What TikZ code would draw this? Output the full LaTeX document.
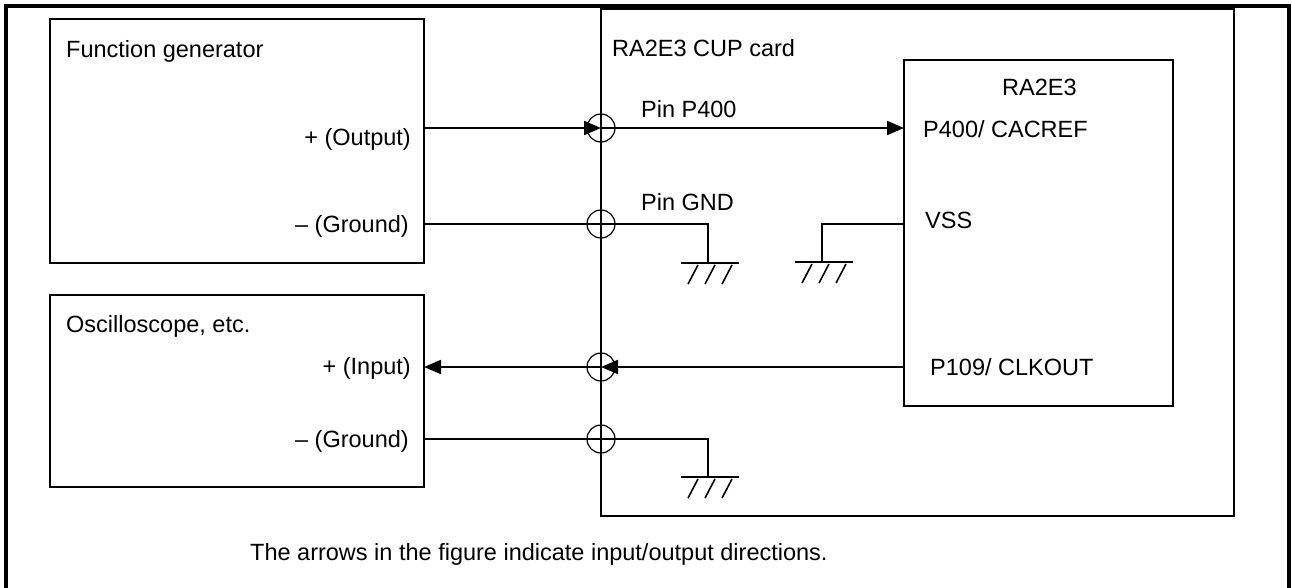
\documentclass[tikz,border=0pt]{standalone}
\usepackage{fontspec}
\setmainfont{Liberation Sans}
\usetikzlibrary{arrows.meta}
\begin{document}
\begin{tikzpicture}[x=1pt,y=-1pt,
  box/.style={draw, line width=1.6pt, inner sep=0pt, outer sep=0pt, anchor=north west},
  wire/.style={line width=2pt},
  thinw/.style={line width=1.6pt},
  pinc/.style={draw, circle, line width=1.2pt, minimum size=28pt, inner sep=0pt, outer sep=0pt},
  tip/.style={-{Triangle[length=17pt,width=14pt]}},
  lbl/.style={inner sep=0pt, font=\fontsize{23.5}{28}\selectfont},
  gnd/.pic={\draw[thinw] (-27,0) -- (31,0);
            \foreach \o in {-10,7,24} \draw[thinw] (\o,2) -- ++(-10,19);}
]
\useasboundingbox (0,0) rectangle (1292,587);
\fill[white] (0,0) rectangle (1292,587);
% outer frame
\draw[line width=3.5pt] (6,6) rectangle (1289,620);

% boxes
\node[box, minimum width=374pt, minimum height=244pt] (fg) at (50,19) {};
\node[box, minimum width=374pt, minimum height=192pt] (osc) at (50,295) {};
\node[box, minimum width=633pt, minimum height=507pt] (card) at (601,9) {};
\node[box, minimum width=269pt, minimum height=346pt] (ra) at (904,60) {};

% pins
\node[pinc] (p1) at (601,128) {};
\node[pinc] (p2) at (601,224) {};
\node[pinc] (p3) at (601,367) {};
\node[pinc] (p4) at (601,439) {};

% ground points
\coordinate (g1) at (708,263);
\coordinate (g2) at (822,262);
\coordinate (g3) at (708,477);
\pic at (g1) {gnd};
\pic at (g2) {gnd};
\pic at (g3) {gnd};

% wires
\draw[wire,tip] (fg.east |- p1) -- (p1.center);
\draw[wire,tip] (p1.center) -- (ra.west |- p1);
\draw[wire] (fg.east |- p2) -- (p2.center) -| (g1);
\draw[wire] (ra.west |- p2) -| (g2);
\draw[wire,tip] (ra.west |- p3) -- (p3.center);
\draw[wire,tip] (p3.center) -- (osc.east |- p3);
\draw[wire] (osc.east |- p4) -- (p4.center) -| (g3);

% labels
\node[lbl, anchor=base west] (tfg) at (66,57) {Function generator};
\node[lbl, anchor=base east] (tout) at (411,145) {+ (Output)};
\node[lbl, anchor=base east] (tg1) at (409,232) {– (Ground)};
\node[lbl, anchor=base west] (tosc) at (66,332) {Oscilloscope, etc.};
\node[lbl, anchor=base east] (tin) at (411,374) {+ (Input)};
\node[lbl, anchor=base east] (tg2) at (409,447) {– (Ground)};
\node[lbl, anchor=base west] (tcard) at (612,56) {RA2E3 CUP card};
\node[lbl, anchor=base west] (tp400) at (641,117) {Pin P400};
\node[lbl, anchor=base west] (tpgnd) at (641,210) {Pin GND};
\node[lbl, anchor=base west] (tra) at (1002,95) {RA2E3};
\node[lbl, anchor=base west] (tcac) at (923,137) {P400/ CACREF};
\node[lbl, anchor=base west] (tvss) at (925,228) {VSS};
\node[lbl, anchor=base west] (tclk) at (930,375) {P109/ CLKOUT};
\node[lbl, anchor=base west] (tcap) at (250,560) {The arrows in the figure indicate input/output directions.};
\end{tikzpicture}
\end{document}
